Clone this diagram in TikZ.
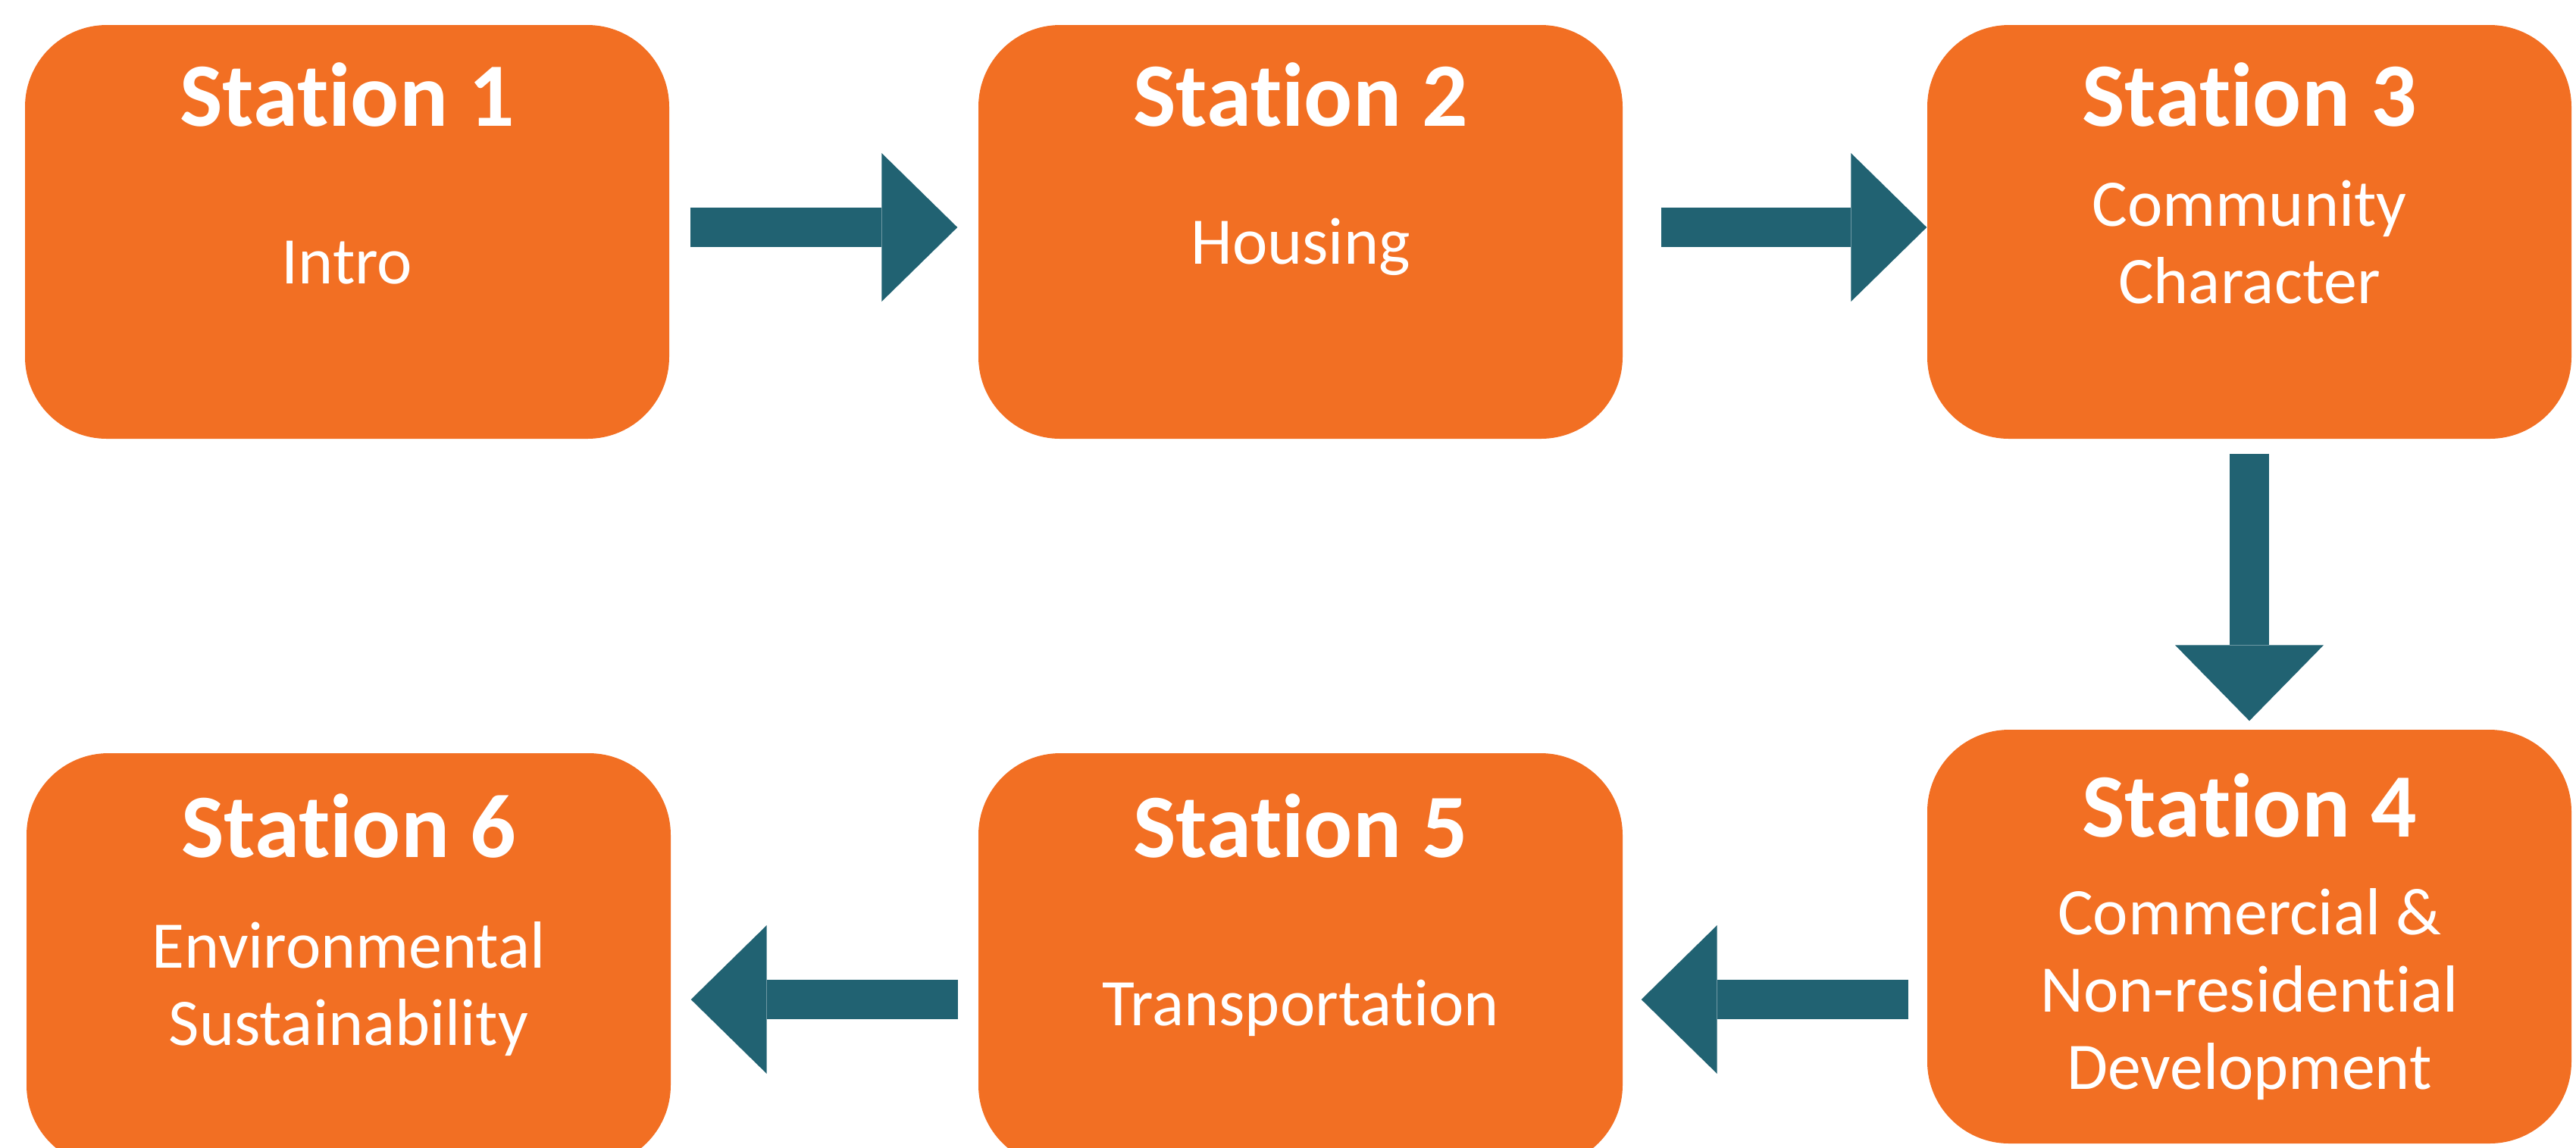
\documentclass[tikz,border=0pt]{standalone}
\usepackage{fontspec}
\setmainfont{Carlito}[Ligatures=NoCommon]
\usetikzlibrary{arrows.meta,positioning}
\definecolor{stationorange}{HTML}{F26F23}
\definecolor{flowteal}{HTML}{216272}

\begin{document}
\begin{tikzpicture}[
	station/.style={fill=stationorange,rounded corners=1.08cm,minimum width=8.5cm,minimum height=5.46cm,inner sep=0pt},
	stationtitle/.style={text=white,font=\fontsize{34}{40}\selectfont\bfseries,anchor=base,inner sep=0pt},
	topic/.style={text=white,font=\fontsize{25}{29}\selectfont,align=center,anchor=base,inner sep=0pt},
	flow/.style={draw=flowteal,line width=0.52cm,-{Triangle[length=1cm,width=1.96cm,line width=0pt]}}]
		\clip (0,0) rectangle (33.99,-15.14);
		\fill[white] (0,0) rectangle (33.99,-15.14);
		\node[station] (st1) at (4.58,-3.06) {};
		\node[station] (st2) at (17.16,-3.06) {};
		\node[station] (st3) at (29.68,-3.06) {};
		\node[station] (st4) at (29.68,-12.36) {};
		\node[station] (st5) at (17.16,-12.67) {};
		\node[station] (st6) at (4.60,-12.67) {};
		\node[stationtitle] (t1) at ([yshift=-1.34cm]st1.north) {Station 1};
		\node[stationtitle] (t2) at ([yshift=-1.34cm]st2.north) {Station 2};
		\node[stationtitle] (t3) at ([yshift=-1.34cm]st3.north) {Station 3};
		\node[stationtitle] (t4) at ([yshift=-1.42cm]st4.north) {Station 4};
		\node[stationtitle] (t5) at ([yshift=-1.38cm]st5.north) {Station 5};
		\node[stationtitle] (t6) at ([yshift=-1.38cm]st6.north) {Station 6};
		% base of a multi-line topic is its last line
		\node[topic] (p1) at ([yshift=-3.42cm]st1.north) {Intro};
		\node[topic] (p2) at ([yshift=-3.16cm]st2.north) {Housing};
		\node[topic] (p3) at ([yshift=-3.68cm]st3.north) {Community\\Character};
		\node[topic] (p4) at ([yshift=-4.75cm]st4.north) {Commercial \&\\Non-residential\\Development};
		\node[topic] (p5) at ([yshift=-3.60cm]st5.north) {Transportation};
		\node[topic] (p6) at ([yshift=-3.86cm]st6.north) {Environmental\\Sustainability};
		\draw[flow] ([xshift=0.27cm,yshift=0.06cm]st1.east) -- ([xshift=-0.27cm,yshift=0.06cm]st2.west);
		\draw[flow] ([xshift=0.50cm,yshift=0.06cm]st2.east) -- ([yshift=0.06cm]st3.west);
		\draw[flow] ([yshift=-0.19cm]st3.south) -- ([yshift=0.11cm]st4.north);
		\draw[flow] ([xshift=-0.24cm,yshift=-0.83cm]st4.west) -- ([xshift=0.24cm,yshift=-0.52cm]st5.east);
		\draw[flow] ([xshift=-0.26cm,yshift=-0.52cm]st5.west) -- ([xshift=0.26cm,yshift=-0.52cm]st6.east);
	\end{tikzpicture}
\end{document}
